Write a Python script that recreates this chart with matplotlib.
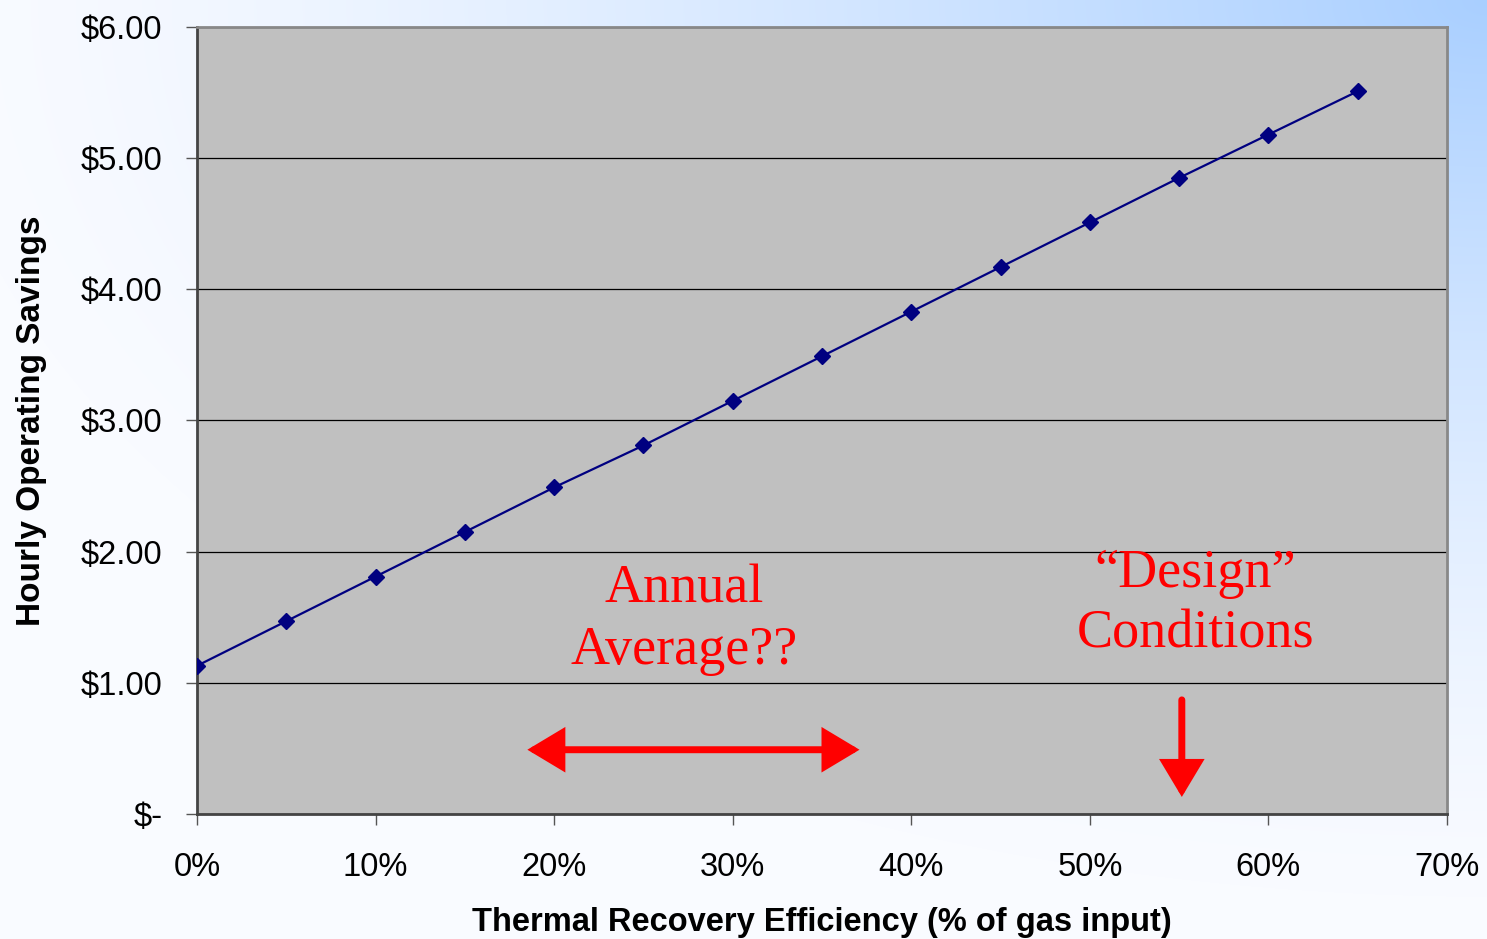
import numpy as np
import matplotlib.pyplot as plt
from matplotlib.patches import FancyArrowPatch
from matplotlib.colors import to_rgb

# data
efficiency = [0, 5, 10, 15, 20, 25, 30, 35, 40, 45, 50, 55, 60, 65]
savings = [1.13, 1.47, 1.81, 2.15, 2.49, 2.81, 3.15, 3.49, 3.83, 4.17, 4.51, 4.85, 5.18, 5.51]
xticks = [0, 10, 20, 30, 40, 50, 60, 70]
yticks = [0, 1, 2, 3, 4, 5, 6]
ylabels = ['$-', '$1.00', '$2.00', '$3.00', '$4.00', '$5.00', '$6.00']

W, H = 1487, 939
fig = plt.figure(figsize=(W / 100, H / 100), dpi=100)

# background: light blue glow from the top right corner
bg = fig.add_axes([0, 0, 1, 1], zorder=-10)
yy, xx = np.mgrid[0:H, 0:W]
d = np.sqrt(((W - xx) / W) ** 2 + (yy / H * 1.1) ** 2)
t = np.clip(1 - d / 1.05, 0, 1) ** 1.4
c0 = np.array(to_rgb('#f9fbff'))
c1 = np.array(to_rgb('#a9cfff'))
img = c0 + (c1 - c0) * t[..., None]
bg.imshow(img, aspect='auto', extent=[0, 1, 0, 1])
bg.axis('off')

ax = fig.add_axes([197 / W, 1 - 814 / H, 1250 / W, 787 / H])
ax.set_facecolor('#c0c0c0')
ax.plot(efficiency, savings, color='#000080', lw=1.6, marker='D', markersize=8, zorder=3)

ax.set_xlim(0, 70)
ax.set_ylim(0, 6)
ax.set_xticks(xticks)
ax.set_xticklabels([f'{v}%' for v in xticks], family='Liberation Sans')
ax.set_yticks(yticks)
ax.set_yticklabels(ylabels, family='Liberation Sans')
ax.tick_params(axis='both', labelsize=23.5, length=8, width=1, color='#555555', direction='out')
ax.tick_params(axis='y', pad=17)
ax.tick_params(axis='x', pad=19)
ax.yaxis.grid(True, color='black', lw=0.9)
ax.set_axisbelow(True)

for s in ['left', 'bottom']:
    ax.spines[s].set_color('#444444')
    ax.spines[s].set_linewidth(2)
for s in ['top', 'right']:
    ax.spines[s].set_color('#888888')
    ax.spines[s].set_linewidth(2)

ax.set_xlabel('Thermal Recovery Efficiency (% of gas input)', fontsize=23.5, fontweight='bold',
              family='Liberation Sans', labelpad=18)
ax.set_ylabel('Hourly Operating Savings', fontsize=24, fontweight='bold',
              family='Liberation Sans', labelpad=24)

# annotations
ax.text(27.3, 1.48, 'Annual\nAverage??', color='red', fontsize=39, family='Liberation Serif',
        ha='center', va='center', linespacing=1.3)
ax.text(55.9, 1.6, '\u201cDesign\u201d\nConditions', color='red', fontsize=39, family='Liberation Serif',
        ha='center', va='center', linespacing=1.25)

ax.add_patch(FancyArrowPatch((18.5, 0.49), (37.1, 0.49),
                             arrowstyle='<|-|>,head_length=1.0,head_width=0.6',
                             mutation_scale=20, color='red', lw=5, shrinkA=0, shrinkB=0,
                             joinstyle='miter'))
ax.add_patch(FancyArrowPatch((55.15, 0.87), (55.15, 0.13),
                             arrowstyle='-|>,head_length=1.0,head_width=0.6',
                             mutation_scale=20, color='red', lw=5, shrinkA=0, shrinkB=0,
                             joinstyle='miter'))

fig.savefig('out.png', dpi=100)
